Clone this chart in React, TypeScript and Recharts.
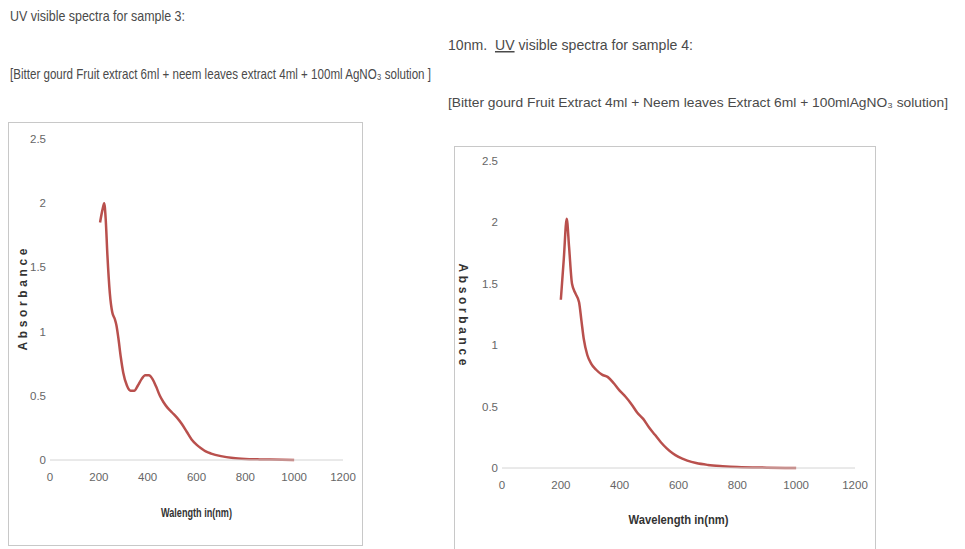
import React from 'react';
import { LineChart, Line, XAxis, YAxis, Label } from 'recharts';

// sample 3: wavelength (nm) / absorbance
const wave3 = [205, 215, 222, 228, 235, 245, 255, 265, 272, 280, 290, 300, 315, 330, 345, 360, 375, 390, 405, 420, 435, 450, 465, 480, 500, 520, 540, 560, 580, 600, 620, 640, 660, 700, 750, 800, 850, 900, 1000];
const abs3 = [1.85, 1.95, 2.0, 1.88, 1.6, 1.3, 1.15, 1.1, 1.05, 0.95, 0.8, 0.68, 0.58, 0.54, 0.54, 0.58, 0.63, 0.66, 0.66, 0.63, 0.57, 0.5, 0.45, 0.41, 0.37, 0.33, 0.28, 0.22, 0.16, 0.12, 0.09, 0.065, 0.05, 0.03, 0.015, 0.008, 0.005, 0.003, 0.0];

// sample 4
const wave4 = [200, 210, 220, 228, 238, 250, 262, 270, 278, 290, 303, 320, 340, 360, 380, 400, 420, 440, 460, 480, 500, 520, 540, 560, 580, 600, 630, 660, 700, 750, 800, 900, 1000];
const abs4 = [1.37, 1.7, 2.03, 1.8, 1.5, 1.42, 1.35, 1.2, 1.05, 0.92, 0.85, 0.8, 0.76, 0.74, 0.69, 0.63, 0.58, 0.52, 0.45, 0.4, 0.33, 0.27, 0.21, 0.16, 0.12, 0.09, 0.06, 0.04, 0.025, 0.015, 0.008, 0.003, 0.0];

const xTicks = [0, 200, 400, 600, 800, 1000, 1200];
const yTicks = [0, 0.5, 1, 1.5, 2, 2.5];

const FONT = '"Liberation Sans", Arial, sans-serif';
const LINE = '#b9504d';

const toRows = (xs: number[], ys: number[]) => xs.map((x, i) => ({ x, y: ys[i] }));

interface SpectrumProps {
  rows: { x: number; y: number }[];
  left: number;
  top: number;
  width: number;
  height: number;
  plotLeft: number;
  plotTop: number;
  right: number;
  xAxisHeight: number;
  xTitle: string;
  xTitleLen: number;
  xTitleDy: number;
  yTitleX: number;
  yAngle: number;
}

const Spectrum: React.FC<SpectrumProps> = ({
  rows, left, top, width, height, plotLeft, plotTop, right, xAxisHeight, xTitle, xTitleLen, xTitleDy, yTitleX, yAngle,
}) => (
  <div style={{ position: 'absolute', left, top, width, height, outline: '1px solid #c8c8c8' }}>
    <LineChart width={width} height={height} data={rows} margin={{ top: plotTop, right, left: 0, bottom: 0 }}>
      <XAxis
        dataKey="x"
        type="number"
        domain={[0, 1200]}
        ticks={xTicks}
        height={xAxisHeight}
        tickSize={0}
        tickMargin={13}
        axisLine={{ stroke: '#d4d4d4' }}
        tick={{ fill: '#666', fontSize: 11.5, fontFamily: FONT }}
      >
        <Label
          content={(p: any) => {
            const vb = p.viewBox;
            return (
              <text x={vb.x + vb.width / 2 - xTitleLen / 2} y={vb.y + xTitleDy} dominantBaseline="central"
                textLength={xTitleLen} lengthAdjust="spacingAndGlyphs"
                fill="#333" fontSize={12} fontWeight="bold" fontFamily={FONT}>
                {xTitle}
              </text>
            );
          }}
        />
      </XAxis>
      <YAxis
        type="number"
        domain={[0, 2.5]}
        ticks={yTicks}
        width={plotLeft}
        tickSize={0}
        tickMargin={4}
        axisLine={false}
        tick={{ fill: '#666', fontSize: 11.5, fontFamily: FONT }}
      >
        <Label
          content={(p: any) => {
            const vb = p.viewBox;
            const cy = vb.y + vb.height / 2;
            return (
              <text x={yTitleX - 51} y={cy} transform={`rotate(${yAngle}, ${yTitleX}, ${cy})`}
                dominantBaseline="central" fill="#333" fontSize={12} fontWeight="bold"
                textLength={102} lengthAdjust="spacing" fontFamily={FONT}>
                Absorbance
              </text>
            );
          }}
        />
      </YAxis>
      <Line type="monotone" dataKey="y" stroke={LINE} strokeWidth={2.5} dot={false} isAnimationActive={false} />
    </LineChart>
  </div>
);

const hd = { fill: '#4a4a4a', fontSize: 15, fontFamily: FONT, lengthAdjust: 'spacingAndGlyphs' as const };

export default function App() {
  return (
    <div style={{ position: 'absolute', left: 0, top: 0, width: 965, height: 549, background: '#fff', overflow: 'hidden' }}>
      <svg width={965} height={549} style={{ position: 'absolute', left: 0, top: 0 }}>
        <text x={10} y={21} textLength={175} {...hd}>UV visible spectra for sample 3:</text>
        <text x={10} y={79} textLength={421} {...hd}>
          [Bitter gourd Fruit extract 6ml + neem leaves extract 4ml + 100ml AgNO₃ solution ]
        </text>
        <text x={448} y={50} textLength={245} {...hd}>
          10nm.{'\u00a0\u00a0'}<tspan textDecoration="underline">UV</tspan> visible spectra for sample 4:
        </text>
        <text x={448} y={107} textLength={500} {...hd} fontSize={13.5}>
          [Bitter gourd Fruit Extract 4ml + Neem leaves Extract 6ml + 100mlAgNO₃ solution]
        </text>
      </svg>

      <Spectrum
        rows={toRows(wave3, abs3)}
        left={9} top={123} width={353} height={422}
        plotLeft={41} plotTop={16} right={19} xAxisHeight={85}
        xTitle="Walength in(nm)" xTitleLen={71} xTitleDy={53}
        yTitleX={14} yAngle={-90}
      />
      <Spectrum
        rows={toRows(wave4, abs4)}
        left={455} top={147} width={420} height={405}
        plotLeft={47} plotTop={14} right={20} xAxisHeight={84}
        xTitle="Wavelength in(nm)" xTitleLen={100} xTitleDy={52}
        yTitleX={8} yAngle={90}
      />
    </div>
  );
}
